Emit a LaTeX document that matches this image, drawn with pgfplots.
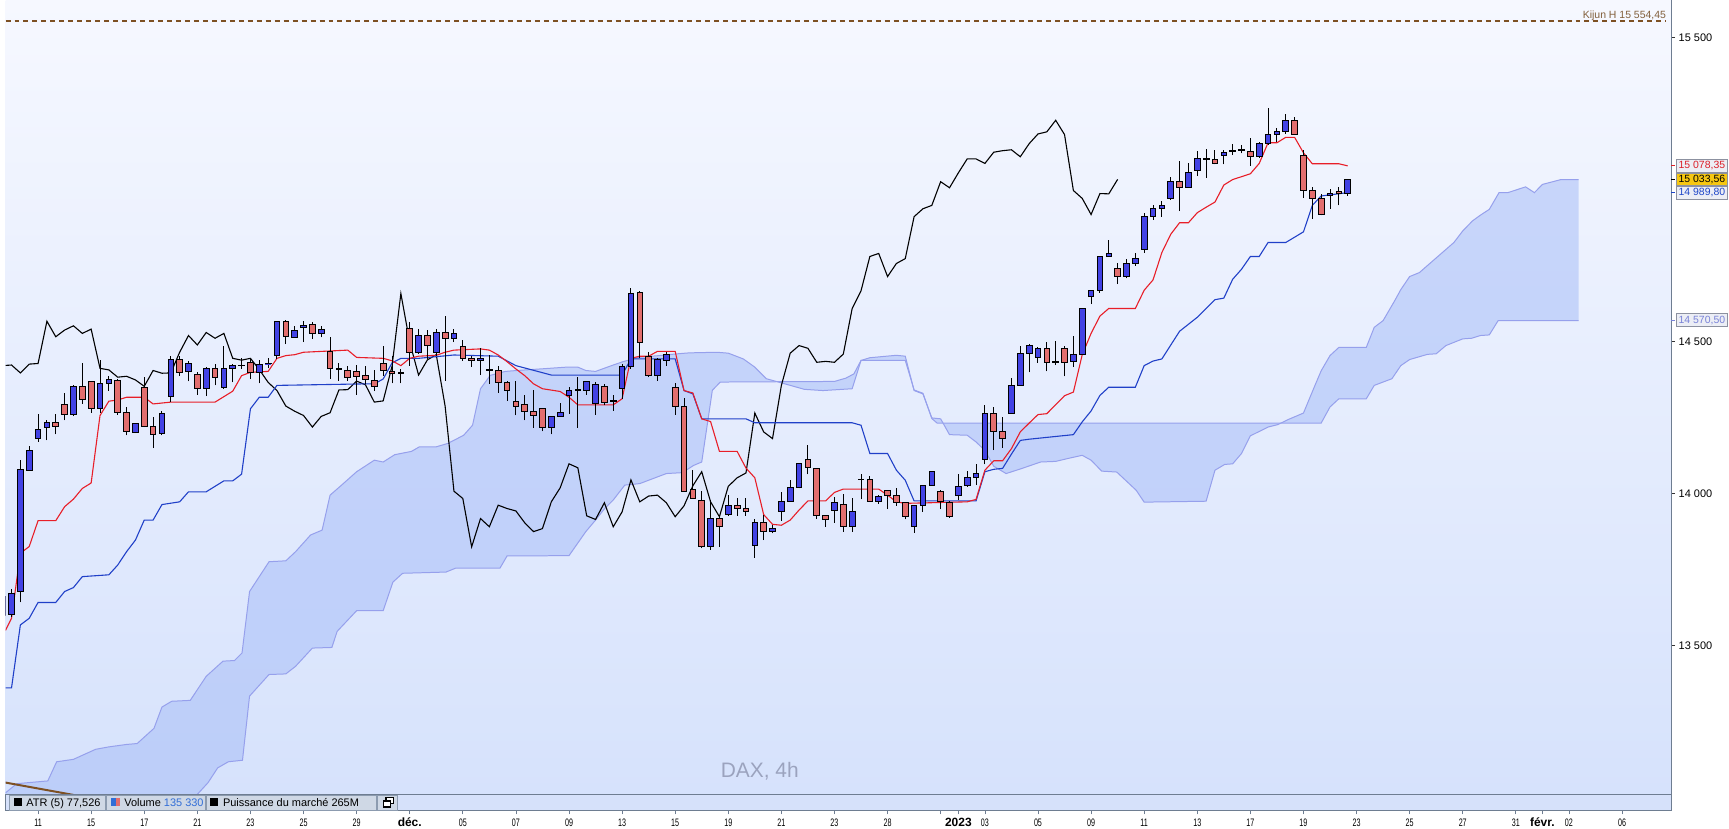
\documentclass[border=0pt]{standalone}
\usepackage{fontspec}
\setmainfont{Liberation Sans}
\usepackage{graphicx}
\usepackage{pgfplots}
\usepackage{pgfplotstable}
\pgfplotsset{compat=1.18}
\usepgfplotslibrary{fillbetween}

\definecolor{bgtop}{RGB}{246,248,255}
\definecolor{bgbot}{RGB}{214,226,252}
\definecolor{cloudf}{RGB}{168,190,248}
\definecolor{cloude}{RGB}{150,160,236}
\definecolor{upc}{RGB}{66,66,228}
\definecolor{dnc}{RGB}{226,110,110}
\definecolor{tenkan}{RGB}{232,30,40}
\definecolor{kijun}{RGB}{32,64,200}
\definecolor{kbrown}{RGB}{125,80,35}
\definecolor{ktext}{RGB}{130,95,60}
\definecolor{axisgray}{RGB}{110,125,145}
\definecolor{stripbg}{RGB}{214,225,250}
\definecolor{itembg}{RGB}{207,216,229}
\definecolor{itemln}{RGB}{140,155,175}
\definecolor{daxc}{RGB}{155,163,190}
\definecolor{volblue}{RGB}{50,110,215}
\definecolor{redtxt}{RGB}{220,30,40}
\definecolor{bluetxt}{RGB}{30,70,200}
\definecolor{lavtxt}{RGB}{120,130,215}
\definecolor{goldbox}{RGB}{246,199,17}
\definecolor{boxbg}{RGB}{236,238,245}
\definecolor{boxln}{RGB}{140,145,160}

\newcommand{\dl}[1]{\scalebox{0.66}[1]{#1}}
\newcommand{\ml}[1]{{\fontsize{12}{13}\selectfont\bfseries #1}}

\pgfplotstableread{
k o h l c
-1 13600 13680 13590 13662
0 13601 13685 13595 13673
1 13678 14112 13642 14079
2 14075 14157 14075 14142
3 14180 14263 14170 14212
4 14219 14243 14175 14233
5 14235 14263 14195 14222
6 14294 14332 14241 14260
7 14260 14358 14255 14353
8 14353 14430 14296 14310
9 14370 14370 14266 14281
10 14281 14441 14266 14363
11 14363 14388 14339 14377
12 14372 14377 14260 14268
13 14268 14285 14192 14203
14 14201 14232 14199 14232
15 14348 14383 14219 14222
16 14222 14252 14150 14196
17 14199 14271 14192 14265
18 14321 14452 14301 14442
19 14442 14452 14388 14399
20 14403 14437 14369 14429
21 14393 14399 14326 14345
22 14345 14418 14321 14413
23 14412 14426 14356 14381
24 14350 14485 14345 14412
25 14412 14426 14366 14421
26 14422 14446 14410 14423
27 14433 14443 14377 14397
28 14399 14441 14363 14426
29 14427 14446 14412 14428
30 14454 14569 14443 14567
31 14567 14572 14492 14516
32 14514 14552 14514 14538
33 14547 14569 14498 14552
34 14555 14566 14509 14527
35 14527 14550 14514 14541
36 14468 14514 14378 14412
37 14412 14429 14372 14407
38 14405 14421 14372 14383
39 14401 14424 14325 14386
40 14388 14421 14361 14374
41 14372 14405 14337 14353
42 14429 14485 14388 14405
43 14403 14452 14363 14396
44 14396 14410 14363 14397
45 14543 14563 14421 14465
46 14465 14543 14460 14520
47 14519 14538 14443 14489
48 14465 14541 14454 14530
49 14530 14583 14372 14511
50 14511 14543 14498 14527
51 14483 14506 14437 14445
52 14445 14452 14418 14439
53 14439 14479 14390 14445
54 14406 14456 14361 14408
55 14405 14421 14331 14366
56 14366 14372 14306 14339
57 14303 14372 14257 14288
58 14292 14323 14241 14271
59 14271 14342 14216 14257
60 14279 14281 14205 14219
61 14219 14254 14195 14254
62 14255 14298 14255 14266
63 14323 14350 14263 14341
64 14340 14383 14216 14342
65 14339 14370 14325 14370
66 14296 14366 14260 14358
67 14354 14361 14290 14301
68 14303 14325 14273 14305
69 14345 14427 14312 14419
70 14419 14675 14410 14658
71 14662 14665 14445 14498
72 14452 14465 14383 14390
73 14390 14445 14372 14440
74 14437 14465 14421 14457
75 14350 14363 14259 14288
76 14288 14314 14008 14008
77 14013 14077 13984 13984
78 13978 14008 13820 13825
79 13825 13978 13815 13918
80 13918 13929 13825 13891
81 13933 13997 13926 13962
82 13962 13984 13927 13951
83 13951 13984 13927 13943
84 13828 13918 13789 13904
85 13904 13929 13847 13875
86 13875 13896 13869 13885
87 13942 14006 13911 13973
88 13973 14044 13973 14019
89 14019 14098 14017 14098
90 14111 14161 14063 14085
91 14084 14084 13918 13927
92 13927 13927 13891 13915
93 13944 13990 13905 13970
94 13966 14000 13875 13891
95 13891 13984 13875 13940
96 14047 14063 13981 14045
97 14047 14058 13973 13973
98 13973 13995 13966 13992
99 14011 14011 13949 13995
100 13995 14019 13960 13970
101 13970 13970 13915 13924
102 13891 13960 13871 13960
103 13960 14030 13940 14026
104 14026 14072 14026 14072
105 14006 14011 13949 13973
106 13970 13975 13921 13924
107 13993 14066 13979 14024
108 14026 14075 14022 14052
109 14052 14096 14028 14068
110 14113 14292 14096 14265
111 14265 14285 14143 14203
112 14203 14252 14151 14181
113 14265 14380 14265 14356
114 14356 14484 14354 14462
115 14462 14492 14399 14487
116 14449 14481 14430 14478
117 14478 14500 14402 14432
118 14433 14503 14423 14435
119 14476 14484 14386 14432
120 14435 14520 14416 14459
121 14459 14612 14457 14609
122 14649 14667 14623 14667
123 14667 14780 14660 14780
124 14780 14833 14780 14790
125 14740 14760 14689 14714
126 14714 14773 14708 14757
127 14757 14791 14749 14773
128 14802 14924 14793 14911
129 14911 14948 14900 14937
130 14937 14962 14911 14948
131 14970 15042 14966 15026
132 15026 15093 14929 15006
133 15006 15086 15006 15055
134 15063 15128 15044 15101
135 15099 15134 15039 15101
136 15099 15130 15083 15086
137 15112 15130 15083 15123
138 15126 15151 15115 15128
139 15129 15148 15119 15131
140 15126 15170 15079 15108
141 15108 15156 15104 15151
142 15151 15268 15148 15183
143 15181 15203 15156 15190
144 15190 15250 15184 15228
145 15228 15239 15181 15181
146 15113 15130 14973 14997
147 14998 15009 14904 14971
148 14970 14987 14915 14918
149 14982 15003 14937 14987
150 14993 15009 14948 14986
151 14986 15033.56 14979 15033.56
}\candles

\begin{document}
\pgfplotstablegetrowsof{\candles}
\pgfmathtruncatemacro{\Nrows}{\pgfplotsretval-1}
\begin{tikzpicture}
\begin{axis}[
  at={(0,0)}, anchor=north west,
  scale only axis, width=1671pt, height=797pt,
  xmin=-0.676, xmax=187.56, ymin=13010.5, ymax=15623.6,
  axis x line=none,
  axis y line*=right,
  axis line style={color=axisgray, line width=1pt},
  ytick={13500,14000,14500,15500},
  yticklabels={13 500,14 000,14 500,15 500},
  tick align=outside, major tick length=4pt,
  ytick style={color=black!80, line width=0.8pt},
  yticklabel style={font=\fontsize{11}{13}\selectfont, text=black},
  axis background/.style={top color=bgtop, bottom color=bgbot},
]
% cloud
\addplot[draw=none, name path=SA, forget plot] coordinates {(-0.676,13016) (0.6,13046) (4.1,13055) (5.1,13118) (7,13126) (9.5,13159) (11,13167) (13,13175) (14.2,13178) (16.1,13228) (17,13298) (18.1,13317) (20.2,13320) (22,13399) (23.9,13449) (25.2,13451) (26.05,13476) (26.9,13678) (29.1,13776) (31,13779) (32.1,13809) (33.8,13864) (35.1,13880) (36,13995) (37.3,14028) (39,14072) (41,14110) (42,14104) (43.3,14128) (45.2,14139) (46.1,14154) (48,14154) (49.3,14165) (51.1,14192) (52.1,14225) (53,14345) (54.1,14389) (55.8,14402) (57.1,14405) (59.7,14410) (62.7,14416) (64,14416) (64.9,14405) (66,14402) (68,14423) (69.1,14434) (71,14449) (73.2,14454) (75.3,14460) (76.6,14463) (79.7,14465) (81,14462) (82.7,14443) (84,14416) (85.3,14378) (87.4,14361) (89.6,14343) (91.7,14339) (95,14345) (96,14438) (97,14447) (100,14455) (101,14452) (102,14339) (103,14328) (104,14249) (105,14246) (106,14194) (108,14192) (109,14170) (110,14142) (111,14090) (112.4,14066) (114.1,14082) (116.3,14104) (118,14106) (119.3,14115) (121,14126) (122,14110) (123.2,14074) (124.9,14071) (127.1,14011) (128,13972) (135,13975) (136,14077) (137.1,14096) (138,14098) (139,14132) (140,14190) (140.9,14203) (142,14219) (143.1,14227) (144.3,14244) (146,14265) (147.3,14356) (148,14404) (149,14454) (150,14481) (153.1,14481) (154,14547) (155,14569) (156.3,14634) (157,14671) (158,14714) (159.1,14727) (160.2,14755) (161.7,14793) (163,14826) (164,14864) (165.1,14897) (166,14916) (167,14935) (168.1,14990) (169.1,14990) (171.1,15009) (172.1,14990) (173,15017) (175.1,15033) (177.1,15033)};
\addplot[draw=none, name path=SB, forget plot] coordinates {(-0.676,12800) (20,12990) (21,13011) (22.2,13049) (23.3,13098) (24.5,13118) (26.1,13123) (26.9,13334) (29.1,13405) (31,13407) (32.1,13432) (34,13492) (36.2,13494) (36.8,13547) (39,13615) (42,13615) (43.1,13709) (44.2,13738) (49.1,13742) (50.2,13755) (55.2,13755) (56,13795) (63,13796) (64.9,13875) (66,13913) (67,13950) (68,13979) (69.3,14028) (71,14033) (74,14066) (75.8,14069) (77.1,14093) (78,14104) (79.2,14340) (80.1,14367) (93,14369) (94.3,14380) (95.2,14394) (96,14438) (101,14438) (102,14341) (103,14330) (104,14247) (104.6,14232) (148,14232) (149,14285) (150,14312) (153.1,14312) (154,14356) (156,14378) (157,14421) (158,14441) (160,14458) (161,14460) (162.1,14487) (164,14509) (165,14511) (166,14520) (167,14522) (168,14569) (177.1,14569)};
\addplot[fill=cloudf, fill opacity=0.55, draw=none, forget plot] fill between[of=SA and SB];
\addplot[cloude, line width=1pt, forget plot] coordinates {(-0.676,13016) (0.6,13046) (4.1,13055) (5.1,13118) (7,13126) (9.5,13159) (11,13167) (13,13175) (14.2,13178) (16.1,13228) (17,13298) (18.1,13317) (20.2,13320) (22,13399) (23.9,13449) (25.2,13451) (26.05,13476) (26.9,13678) (29.1,13776) (31,13779) (32.1,13809) (33.8,13864) (35.1,13880) (36,13995) (37.3,14028) (39,14072) (41,14110) (42,14104) (43.3,14128) (45.2,14139) (46.1,14154) (48,14154) (49.3,14165) (51.1,14192) (52.1,14225) (53,14345) (54.1,14389) (55.8,14402) (57.1,14405) (59.7,14410) (62.7,14416) (64,14416) (64.9,14405) (66,14402) (68,14423) (69.1,14434) (71,14449) (73.2,14454) (75.3,14460) (76.6,14463) (79.7,14465) (81,14462) (82.7,14443) (84,14416) (85.3,14378) (87.4,14361) (89.6,14343) (91.7,14339) (95,14345) (96,14438) (97,14447) (100,14455) (101,14452) (102,14339) (103,14328) (104,14249) (105,14246) (106,14194) (108,14192) (109,14170) (110,14142) (111,14090) (112.4,14066) (114.1,14082) (116.3,14104) (118,14106) (119.3,14115) (121,14126) (122,14110) (123.2,14074) (124.9,14071) (127.1,14011) (128,13972) (135,13975) (136,14077) (137.1,14096) (138,14098) (139,14132) (140,14190) (140.9,14203) (142,14219) (143.1,14227) (144.3,14244) (146,14265) (147.3,14356) (148,14404) (149,14454) (150,14481) (153.1,14481) (154,14547) (155,14569) (156.3,14634) (157,14671) (158,14714) (159.1,14727) (160.2,14755) (161.7,14793) (163,14826) (164,14864) (165.1,14897) (166,14916) (167,14935) (168.1,14990) (169.1,14990) (171.1,15009) (172.1,14990) (173,15017) (175.1,15033) (177.1,15033)};
\addplot[cloude, line width=1pt, forget plot] coordinates {(-0.676,12800) (20,12990) (21,13011) (22.2,13049) (23.3,13098) (24.5,13118) (26.1,13123) (26.9,13334) (29.1,13405) (31,13407) (32.1,13432) (34,13492) (36.2,13494) (36.8,13547) (39,13615) (42,13615) (43.1,13709) (44.2,13738) (49.1,13742) (50.2,13755) (55.2,13755) (56,13795) (63,13796) (64.9,13875) (66,13913) (67,13950) (68,13979) (69.3,14028) (71,14033) (74,14066) (75.8,14069) (77.1,14093) (78,14104) (79.2,14340) (80.1,14367) (93,14369) (94.3,14380) (95.2,14394) (96,14438) (101,14438) (102,14341) (103,14330) (104,14247) (104.6,14232) (148,14232) (149,14285) (150,14312) (153.1,14312) (154,14356) (156,14378) (157,14421) (158,14441) (160,14458) (161,14460) (162.1,14487) (164,14509) (165,14511) (166,14520) (167,14522) (168,14569) (177.1,14569)};
% Kijun H dashed
\addplot[kbrown, line width=2pt, dash pattern=on 5pt off 4pt, forget plot] coordinates {(-0.676,15554.45) (187.0,15554.45)};
% trend line
\addplot[kbrown, line width=2pt, forget plot] coordinates {(-0.676,13049.6) (7,13009)};
% Chikou
\addplot[black, line width=1.1pt, forget plot] table[x expr=\thisrow{k}-26, y=c] {\candles};
% Kijun
\addplot[kijun, line width=1.1pt, forget plot] coordinates {(-0.676,13361) (0,13361) (1,13568) (2,13590) (3,13642) (5,13642) (6,13678) (7,13691) (8,13727) (11,13733) (12,13765) (13,13809) (14,13847) (15,13913) (16,13913) (17,13964) (19,13973) (20,14006) (22,14006) (24,14042) (25,14042) (26,14064) (27,14279) (28,14317) (29,14317) (30,14356) (40,14361) (41,14361) (42,14377) (43,14430) (44,14445) (46,14445) (50,14456) (55,14452) (57,14421) (61,14390) (69,14390) (70,14443) (75,14443) (76,14339) (77,14328) (78,14246) (83,14246) (84,14233) (95,14233) (96,14225) (97,14132) (99,14132) (100,14077) (101,14044) (102,13976) (109,13976) (110,14072) (111,14080) (112,14083) (113,14130) (114,14175) (115,14179) (120,14194) (121,14236) (122,14272) (123,14323) (124,14350) (127,14350) (128,14421) (129,14436) (130,14443) (132,14534) (134,14580) (136,14638) (137,14643) (138,14705) (139,14738) (140,14780) (141,14780) (142,14826) (144,14826) (146,14861) (147,14948) (148,14979) (151,14990)};
% Tenkan
\addplot[tenkan, line width=1.1pt, forget plot] coordinates {(-0.676,13550) (0,13590) (1,13804) (2,13826) (3,13911) (5,13911) (6,13957) (7,13982) (8,14017) (9,14035) (10,14257) (11,14304) (12,14308) (13,14317) (15,14317) (16,14295) (18,14301) (23,14301) (25,14337) (26,14388) (27,14399) (29,14402) (30,14445) (31,14454) (32,14457) (33,14465) (38,14472) (39,14448) (42,14445) (43,14437) (44,14421) (45,14445) (46,14452) (48,14455) (49,14465) (50,14472) (53,14476) (54,14472) (55,14456) (56,14434) (57,14410) (58,14388) (59,14361) (60,14345) (62,14336) (63,14317) (64,14292) (68,14292) (69,14312) (70,14445) (71,14452) (72,14452) (73,14468) (75,14468) (76,14339) (77,14331) (78,14246) (79,14237) (80,14139) (82,14139) (83,14084) (84,14052) (85,13931) (86,13899) (87,13896) (88,13913) (89,13946) (90,13976) (92,13976) (93,14004) (94,14015) (98,14015) (99,13995) (100,13973) (101,13968) (108,13973) (109,13981) (110,14077) (111,14108) (112,14108) (113,14148) (114,14203) (115,14232) (116,14260) (117,14263) (119,14322) (120,14334) (121,14457) (122,14527) (123,14584) (124,14609) (127,14609) (128,14669) (129,14703) (130,14793) (131,14853) (132,14891) (133,14891) (134,14924) (135,14942) (136,14959) (137,15015) (138,15033) (140,15052) (141,15086) (142,15154) (143,15154) (144,15172) (145,15172) (146,15121) (147,15085) (150,15085) (151,15078)};
% candles
\pgfplotsforeachungrouped \i in {0,...,\Nrows}{%
  \pgfplotstablegetelem{\i}{k}\of\candles \let\cdK=\pgfplotsretval
  \pgfplotstablegetelem{\i}{o}\of\candles \let\cdO=\pgfplotsretval
  \pgfplotstablegetelem{\i}{h}\of\candles \let\cdH=\pgfplotsretval
  \pgfplotstablegetelem{\i}{l}\of\candles \let\cdL=\pgfplotsretval
  \pgfplotstablegetelem{\i}{c}\of\candles \let\cdC=\pgfplotsretval
  \pgfmathsetmacro{\cdxa}{\cdK-0.32}%
  \pgfmathsetmacro{\cdxb}{\cdK+0.32}%
  \pgfmathtruncatemacro{\cdup}{\cdC>=\cdO}%
  \ifnum\cdup=1 \def\cdfill{upc}\else\def\cdfill{dnc}\fi
  \edef\cddo{%
    \noexpand\addplot[black, line width=1pt, forget plot] coordinates {(\cdK,\cdL) (\cdK,\cdH)};%
    \noexpand\addplot[draw=black, line width=0.9pt, fill=\cdfill, forget plot] coordinates {(\cdxa,\cdO) (\cdxb,\cdO) (\cdxb,\cdC) (\cdxa,\cdC)} -- cycle;%
  }%
  \cddo
}
\coordinate (pA) at (axis cs:187.56,15078.35);
\coordinate (pB) at (axis cs:187.56,15033.56);
\coordinate (pC) at (axis cs:187.56,14989.80);
\coordinate (pD) at (axis cs:187.56,14570.50);
\end{axis}
% bottom strip with date axis
\begin{axis}[
  at={(0,-797pt)}, anchor=north west,
  scale only axis, width=1671pt, height=16.5pt,
  xmin=-0.676, xmax=187.56, ymin=0, ymax=1,
  axis background/.style={fill=stripbg},
  axis line style={color=axisgray, line width=1pt},
  ytick=\empty,
  xtick={3,9,15,21,27,33,39,45,51,57,63,69,75,81,87,93,99,105,107,110,116,122,128,134,140,146,152,158,164,170,173,176,182},
  xticklabels={\dl{11},\dl{15},\dl{17},\dl{21},\dl{23},\dl{25},\dl{29},\ml{déc.},\dl{05},\dl{07},\dl{09},\dl{13},\dl{15},\dl{19},\dl{21},\dl{23},\dl{28},{},\ml{2023},\dl{03},\dl{05},\dl{09},\dl{11},\dl{13},\dl{17},\dl{19},\dl{23},\dl{25},\dl{27},\dl{31},\ml{févr.},\dl{02},\dl{06}},
  xtick pos=left, tick align=outside, major tick length=3.5pt,
  xtick style={color=axisgray, line width=0.8pt},
  xticklabel style={anchor=base, inner sep=0pt, yshift=-12.6pt, font=\fontsize{10.9}{12}\selectfont, text=black},
]
\addplot[draw=none, forget plot] coordinates {(0,0.5) (1,0.5)};
\end{axis}
% toolbar items
\begin{scope}[font=\fontsize{11}{13}\selectfont]
\filldraw[fill=itembg, draw=itemln, line width=0.8pt] (4pt,-797.5pt) rectangle (100.5pt,-813pt);
\filldraw[fill=itembg, draw=itemln, line width=0.8pt] (101.5pt,-797.5pt) rectangle (200.5pt,-813pt);
\filldraw[fill=itembg, draw=itemln, line width=0.8pt] (202pt,-797.5pt) rectangle (372.5pt,-813pt);
\filldraw[fill=itembg, draw=itemln, line width=0.8pt] (373pt,-797.5pt) rectangle (393pt,-813pt);
\fill[black] (8.5pt,-800.8pt) rectangle (16.7pt,-809pt);
\node[anchor=base west, inner sep=0pt] at (20.7pt,-808.6pt) {ATR (5) 77,526};
\fill[volblue] (106pt,-800.8pt) rectangle (110.5pt,-809pt);
\fill[dnc] (110.5pt,-800.8pt) rectangle (115pt,-809pt);
\node[anchor=base west, inner sep=0pt] at (119pt,-808.6pt) {Volume \textcolor{volblue}{135 330}};
\fill[black] (205pt,-800.8pt) rectangle (213.5pt,-809pt);
\node[anchor=base west, inner sep=0pt] at (218pt,-808.6pt) {Puissance du marché 265M};
\draw[black, line width=1.4pt, fill=white] (381.5pt,-800pt) rectangle (389.5pt,-806pt);
\draw[black, line width=1.4pt, fill=white] (379pt,-803.5pt) rectangle (386pt,-809.5pt);
\end{scope}
% watermark
\node[text=daxc, font=\fontsize{21}{24}\selectfont] at (756.7pt,-773.3pt) {DAX, 4h};
% Kijun H label
\node[anchor=base east, inner sep=0pt, text=ktext, font=\fontsize{10.5}{12}\selectfont] at (1666pt,-18.3pt) {Kijun H 15 554,45};
% price tags
\tikzset{pbox/.style={anchor=west, inner xsep=2pt, inner ysep=0pt, minimum height=13pt, font=\fontsize{10.5}{12}\selectfont, line width=0.8pt}}
\draw[redtxt, line width=0.8pt] (pA) -- ++(4pt,0);
\draw[black, line width=0.8pt] (pB) -- ++(4pt,0);
\draw[bluetxt, line width=0.8pt] (pC) -- ++(4pt,0);
\draw[lavtxt, line width=0.8pt] (pD) -- ++(4pt,0);
\node[pbox, draw=boxln, fill=boxbg, text=redtxt] at ([xshift=5pt]pA) {15 078,35};
\node[pbox, draw=boxln, fill=goldbox, text=black] at ([xshift=5pt]pB) {15 033,56};
\node[pbox, draw=boxln, fill=boxbg, text=bluetxt] at ([xshift=5pt]pC) {14 989,80};
\node[pbox, draw=boxln, fill=boxbg, text=lavtxt] at ([xshift=5pt]pD) {14 570,50};
\pgfresetboundingbox
\path[use as bounding box] (0,0) rectangle (1729pt,-831pt);
\end{tikzpicture}
\end{document}
